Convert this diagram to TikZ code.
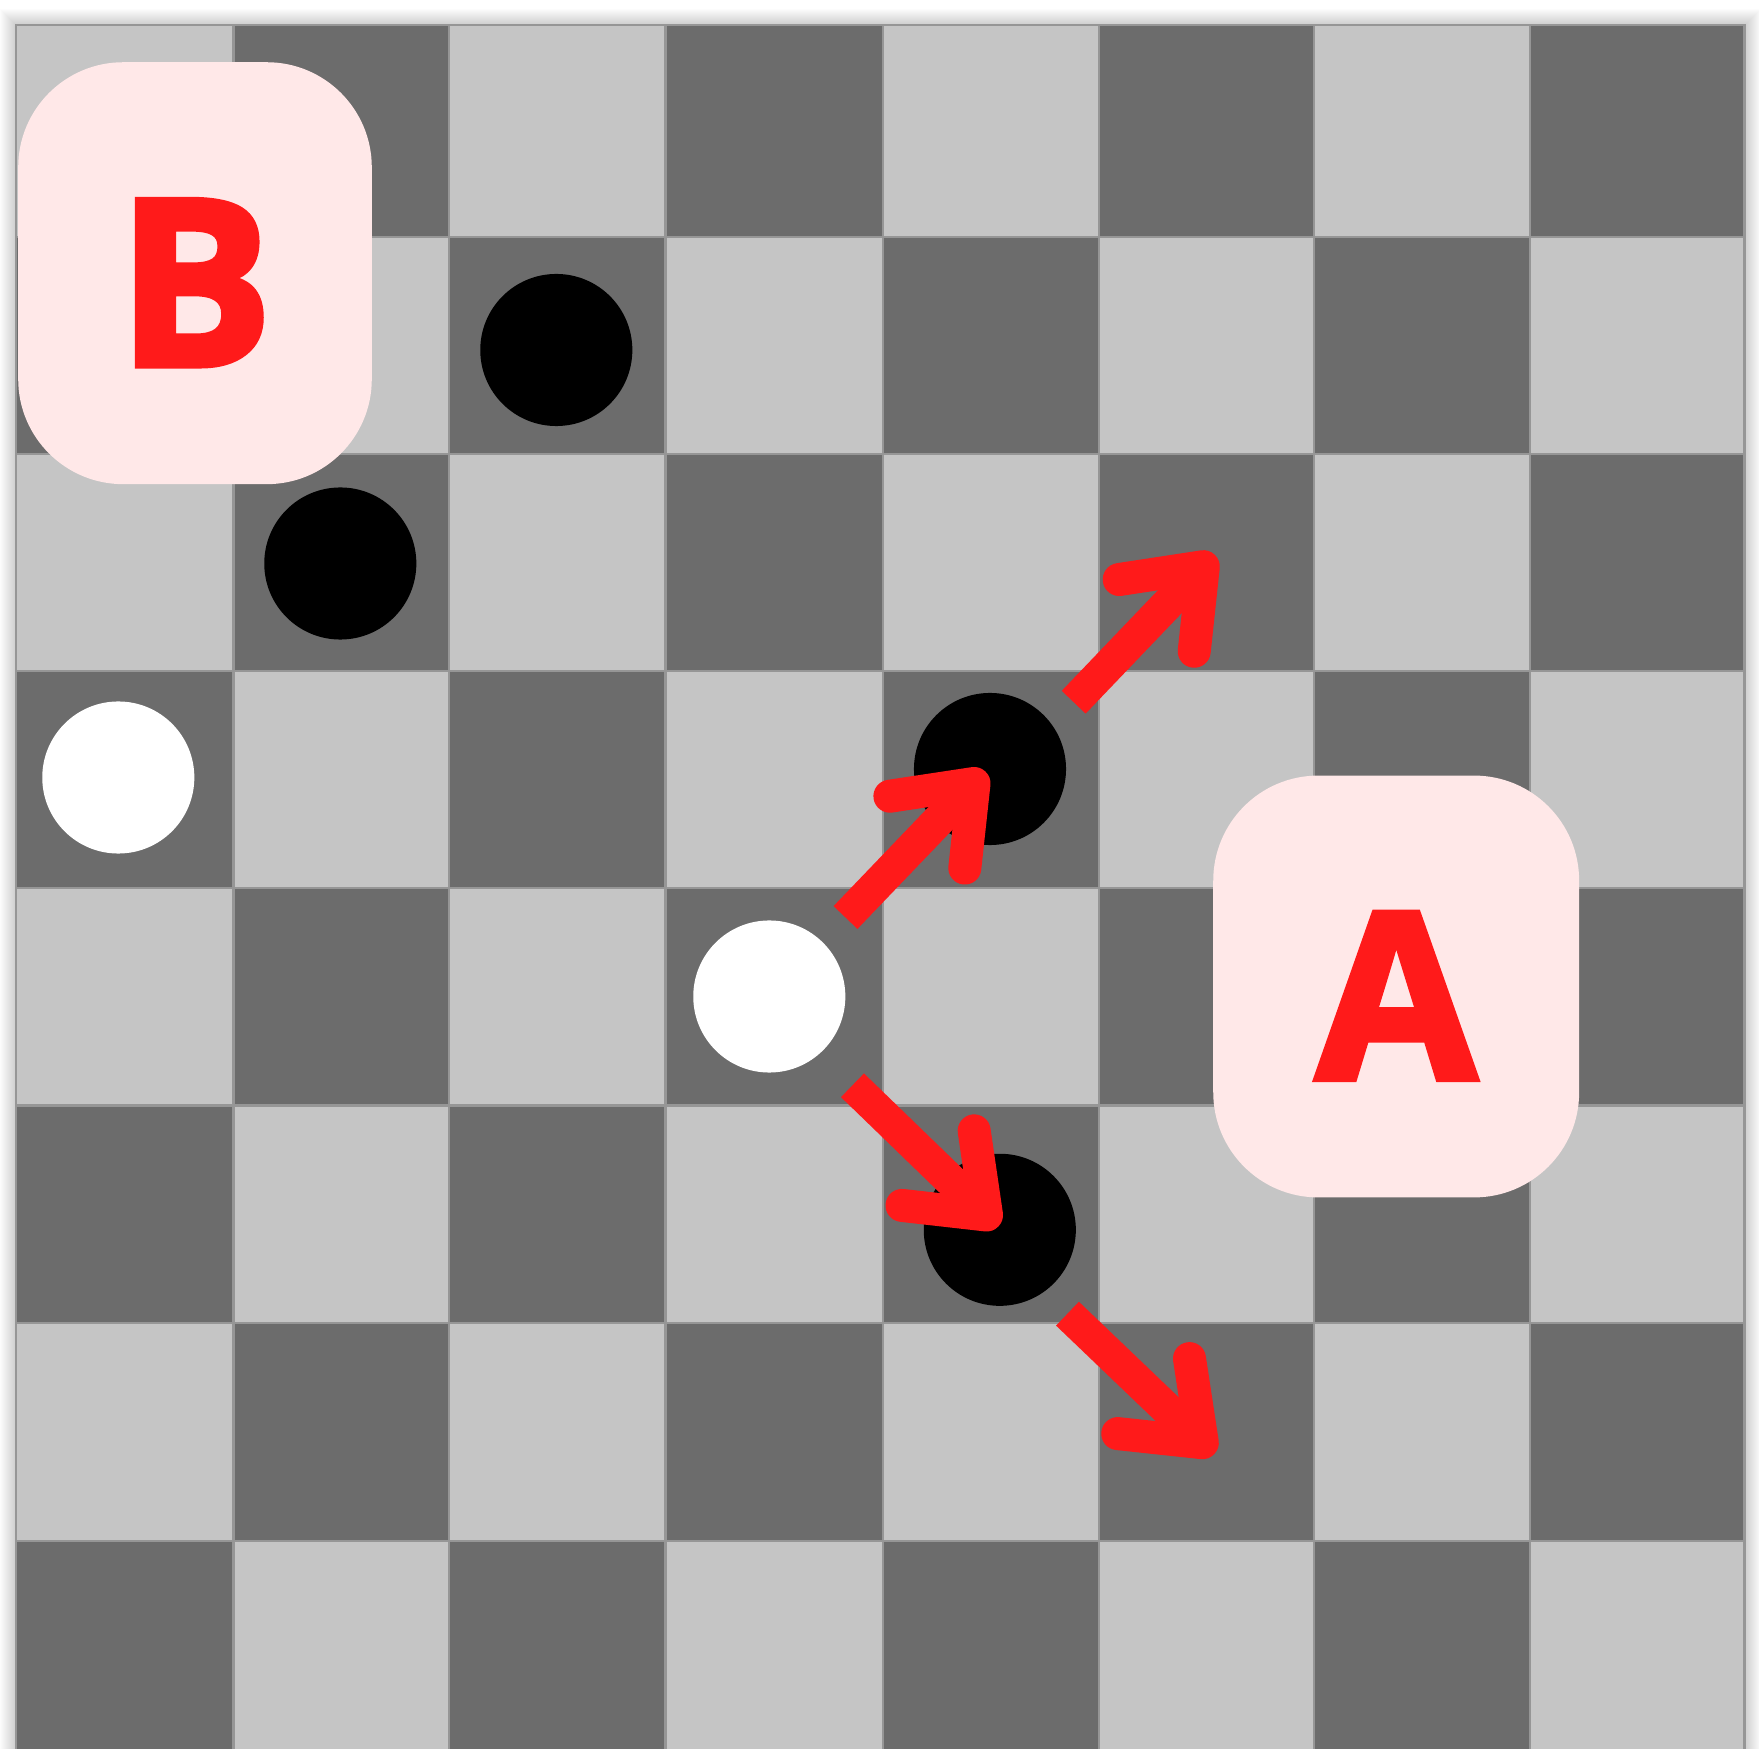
\documentclass[tikz,border=0pt]{standalone}
\usepackage{fontspec}
\setmainfont{Open Sans}[BoldFeatures={FakeBold=2.6}]
\usetikzlibrary{calc}
\definecolor{lightsq}{RGB}{197,197,197}
\definecolor{darksq}{RGB}{108,108,108}
\definecolor{gridln}{RGB}{150,150,150}
\definecolor{arrred}{RGB}{255,26,26}
\definecolor{boxpink}{RGB}{255,232,232}
\newcommand\mkarrow[2]{%
  \draw[shaftline] (#1) -- (#2);
  \draw[headline] ($(#2)!0.85cm!37.6:(#1)$) -- (#2) -- ($(#2)!0.85cm!-37.6:(#1)$);
}
\begin{document}
\begin{tikzpicture}[x=0.01cm,y=-0.01cm,
  piece/.style={circle,minimum size=1.52cm,inner sep=0pt,outer sep=0pt,draw=none},
  lbox/.style={rectangle,rounded corners=1.05cm,fill=boxpink,draw=none,inner sep=0pt,outer sep=0pt},
  lab/.style={font=\fontsize{66}{66}\selectfont\bfseries,text=arrred,inner sep=0pt,anchor=base},
  shaftline/.style={draw=arrred,line width=0.33cm,line cap=butt},
  headline/.style={draw=arrred,line width=0.33cm,line cap=round,line join=round}]
\useasboundingbox (0,0) rectangle (1759,1749);
\clip (0,0) rectangle (1759,1749);
\fill[white] (0,0) rectangle (1759,1749);
% soft shadow around the board
\foreach \i in {1,...,16}
  \fill[black,opacity=0.012] (16-\i,24.7-\i) rectangle (1744.5+\i,1757+\i);
% board
\foreach \ya/\yb [count=\r] in {24.7/236.7,236.7/454.3,454.3/671,671/888.4,888.4/1105.5,1105.5/1322.7,1322.7/1541,1541/1758}{
  \foreach \xa/\xb [count=\c] in {16/233.5,233.5/449,449/665.5,665.5/883,883/1099.3,1099.3/1314,1314/1530,1530/1744.5}{
    \pgfmathtruncatemacro\pty{mod(\c+\r,2)}
    \ifnum\pty=1 \def\sqc{darksq}\else\def\sqc{lightsq}\fi
    \filldraw[fill=\sqc,draw=gridln,line width=0.6pt] (\xa,\ya) rectangle (\xb,\yb);
  }}
% pieces
\node[piece,fill=black] (b1) at (556.3,350) {};
\node[piece,fill=black] (b2) at (340.3,563.5) {};
\node[piece,fill=white] (w1) at (118.3,777.5) {};
\node[piece,fill=black] (b3) at (990,769) {};
\node[piece,fill=white] (w2) at (769.3,996.5) {};
\node[piece,fill=black] (b4) at (999.8,1229.8) {};
% arrows
\coordinate (t1) at (845.5,917.5);  \coordinate (h1) at (974,783.5);
\coordinate (t2) at (1073.7,702.2); \coordinate (h2) at (1203.3,566.7);
\coordinate (t3) at (852.5,1085.3); \coordinate (h3) at (986.5,1215);
\coordinate (t4) at (1067.5,1313.7);\coordinate (h4) at (1202.3,1442.7);
\mkarrow{t1}{h1}
\mkarrow{t2}{h2}
\mkarrow{t3}{h3}
\mkarrow{t4}{h4}
% label boxes
\node[lbox,minimum width=3.534cm,minimum height=4.217cm] (boxB) at (195,273.2) {};
\node[lab] (labB) at (195,365.5) {B};
\node[lbox,minimum width=3.657cm,minimum height=4.216cm] (boxA) at (1396.2,986.5) {};
\node[lab] (labA) at (1396.3,1079) {A};
\end{tikzpicture}
\end{document}
